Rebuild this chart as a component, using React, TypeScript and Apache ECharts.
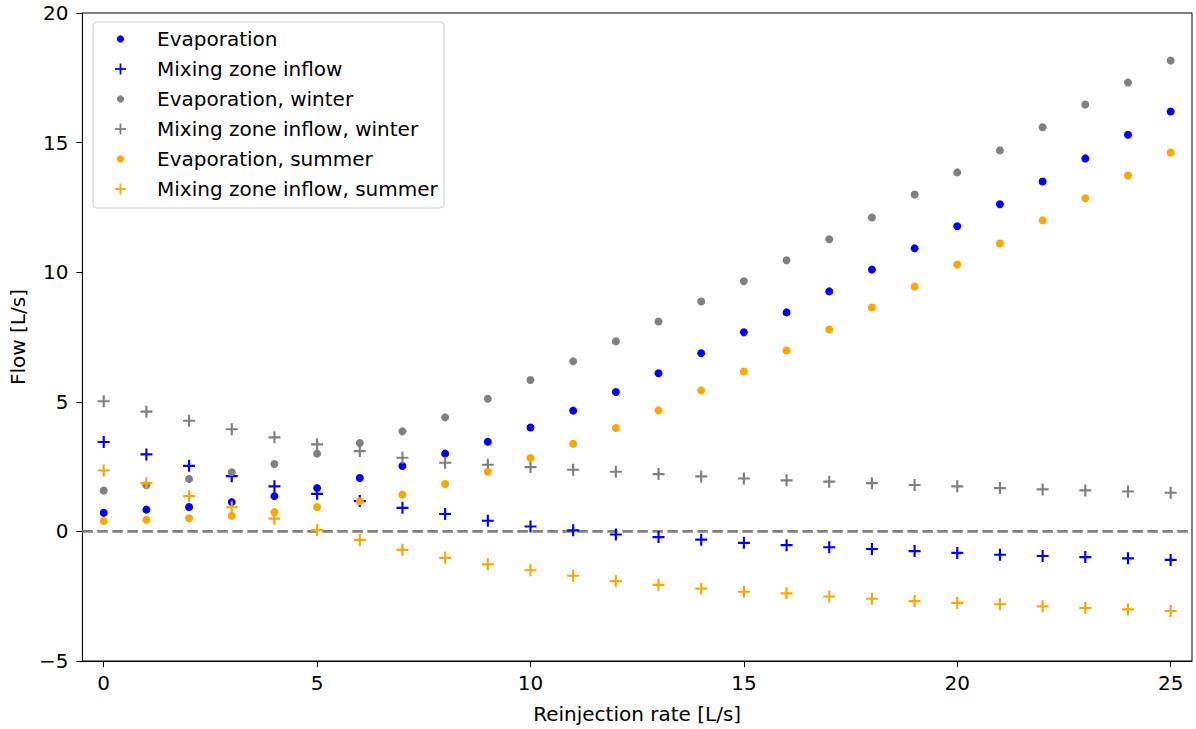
import React, { useEffect, useRef } from "react";
import * as echarts from "echarts";

const rates = [0, 1, 2, 3, 4, 5, 6, 7, 8, 9, 10, 11, 12, 13, 14, 15, 16, 17, 18, 19, 20, 21, 22, 23, 24, 25];

const evaporation = [0.72, 0.84, 0.94, 1.13, 1.36, 1.67, 2.06, 2.52, 3.0, 3.46, 4.01, 4.66, 5.38, 6.1, 6.87, 7.68, 8.45, 9.26, 10.1, 10.92, 11.77, 12.62, 13.5, 14.39, 15.3, 16.2];
const mixingInflow = [3.45, 2.97, 2.53, 2.13, 1.74, 1.45, 1.17, 0.91, 0.67, 0.41, 0.19, 0.04, -0.12, -0.22, -0.32, -0.44, -0.53, -0.61, -0.68, -0.76, -0.83, -0.9, -0.95, -0.99, -1.04, -1.1];
const evaporationWinter = [1.58, 1.78, 2.02, 2.28, 2.6, 3.0, 3.41, 3.86, 4.4, 5.12, 5.84, 6.56, 7.33, 8.1, 8.87, 9.65, 10.46, 11.27, 12.11, 13.0, 13.85, 14.7, 15.59, 16.47, 17.32, 18.17];
const mixingInflowWinter = [5.02, 4.62, 4.27, 3.94, 3.63, 3.36, 3.1, 2.84, 2.65, 2.57, 2.48, 2.38, 2.3, 2.21, 2.12, 2.04, 1.97, 1.92, 1.86, 1.79, 1.74, 1.67, 1.62, 1.58, 1.54, 1.49];
const evaporationSummer = [0.4, 0.45, 0.51, 0.6, 0.75, 0.94, 1.16, 1.42, 1.83, 2.3, 2.83, 3.38, 3.99, 4.67, 5.44, 6.17, 6.98, 7.79, 8.64, 9.45, 10.3, 11.11, 12.0, 12.85, 13.73, 14.62];
const mixingInflowSummer = [2.35, 1.86, 1.36, 0.93, 0.49, 0.05, -0.33, -0.71, -1.02, -1.27, -1.5, -1.71, -1.92, -2.06, -2.21, -2.33, -2.39, -2.51, -2.6, -2.69, -2.76, -2.81, -2.89, -2.96, -3.01, -3.07];

const xTicks = [0, 5, 10, 15, 20, 25];

const seriesDefs = [
  { name: "Evaporation", data: evaporation, color: "#0000ff", kind: "dot" },
  { name: "Mixing zone inflow", data: mixingInflow, color: "#0000ff", kind: "plus" },
  { name: "Evaporation, winter", data: evaporationWinter, color: "#808080", kind: "dot" },
  { name: "Mixing zone inflow, winter", data: mixingInflowWinter, color: "#808080", kind: "plus" },
  { name: "Evaporation, summer", data: evaporationSummer, color: "#ffa500", kind: "dot" },
  { name: "Mixing zone inflow, summer", data: mixingInflowSummer, color: "#ffa500", kind: "plus" },
];

const PLUS = "path://M4.1,0H5.9V4.1H10V5.9H5.9V10H4.1V5.9H0V4.1H4.1Z";
const FONT = "DejaVu Sans";
const FS = 20;

export default function App() {
  const ref = useRef<HTMLDivElement>(null);
  useEffect(() => {
    if (!ref.current) return;
    const chart = echarts.init(ref.current, null, { renderer: "svg" });

    const legendX = 93;
    const legendY = 22;
    const legendItems: any[] = [
      {
        type: "rect",
        shape: { x: legendX, y: legendY, width: 351, height: 186, r: 4 },
        style: { fill: "rgba(255,255,255,0.8)", stroke: "#cccccc", lineWidth: 1 },
        z: 10,
      },
    ];
    seriesDefs.forEach((s, i) => {
      const cy = 39 + i * 30;
      const cx = 120.5;
      if (s.kind === "dot") {
        legendItems.push({
          type: "circle",
          shape: { cx, cy, r: 3.6 },
          style: { fill: s.color },
          z: 11,
        });
      } else {
        legendItems.push({
          type: "rect",
          shape: { x: cx - 5.5, y: cy - 0.9, width: 11, height: 1.8 },
          style: { fill: s.color },
          z: 11,
        });
        legendItems.push({
          type: "rect",
          shape: { x: cx - 0.9, y: cy - 5.5, width: 1.8, height: 11 },
          style: { fill: s.color },
          z: 11,
        });
      }
      legendItems.push({
        type: "text",
        x: 157,
        y: cy,
        style: {
          text: s.name,
          fill: "#000",
          font: `${FS}px '${FONT}'`,
          verticalAlign: "middle",
          align: "left",
        },
        z: 11,
      });
    });

    const series: any[] = seriesDefs.map((s) => ({
      name: s.name,
      type: "scatter",
      data: rates.map((r, i) => [r, s.data[i]]),
      symbol: s.kind === "dot" ? "circle" : PLUS,
      symbolSize: s.kind === "dot" ? 8 : 12,
      itemStyle: { color: s.color, opacity: 1 },
      z: 3,
    }));
    series.push({
      name: "zero",
      type: "line",
      data: [
        [-0.5, 0],
        [25.5, 0],
      ],
      symbol: "none",
      lineStyle: { color: "#808080", width: 2.8, type: [10.5, 4.5] },
      z: 2,
      silent: true,
    });

    chart.setOption({
      animation: false,
      backgroundColor: "#ffffff",
      textStyle: { fontFamily: FONT },
      grid: {
        left: 82,
        right: 4,
        top: 13,
        bottom: 68,
        show: true,
        borderColor: "#000",
        borderWidth: 1,
        backgroundColor: "transparent",
      },
      xAxis: {
        type: "value",
        min: -0.5,
        max: 25.5,
        name: "Reinjection rate [L/s]",
        nameLocation: "middle",
        nameGap: 43,
        nameTextStyle: { fontSize: FS, color: "#000", fontFamily: FONT },
        axisLine: { show: true, onZero: false, lineStyle: { color: "#000", width: 1 } },
        axisTick: { show: true, inside: false, length: 6, lineStyle: { color: "#000" }, customValues: xTicks },
        axisLabel: { color: "#000", fontSize: FS, margin: 12, fontFamily: FONT, customValues: xTicks },
        splitLine: { show: false },
      },
      yAxis: {
        type: "value",
        min: -5,
        max: 20,
        interval: 5,
        name: "Flow [L/s]",
        nameLocation: "middle",
        nameGap: 52,
        nameRotate: 90,
        nameTextStyle: { fontSize: FS, color: "#000", fontFamily: FONT },
        axisLine: { show: true, onZero: false, lineStyle: { color: "#000", width: 1 } },
        axisTick: { show: true, inside: false, length: 6, lineStyle: { color: "#000" } },
        axisLabel: {
          color: "#000",
          fontSize: FS,
          margin: 14,
          fontFamily: FONT,
          formatter: (v: number) => (v < 0 ? "\u2212" + Math.abs(v) : String(v)),
        },
        splitLine: { show: false },
      },
      series,
      graphic: legendItems,
    });
    return () => chart.dispose();
  }, []);
  return (
    <div
      ref={ref}
      style={{ position: "absolute", left: 0, top: 0, width: 1196, height: 729, background: "#fff" }}
    />
  );
}
